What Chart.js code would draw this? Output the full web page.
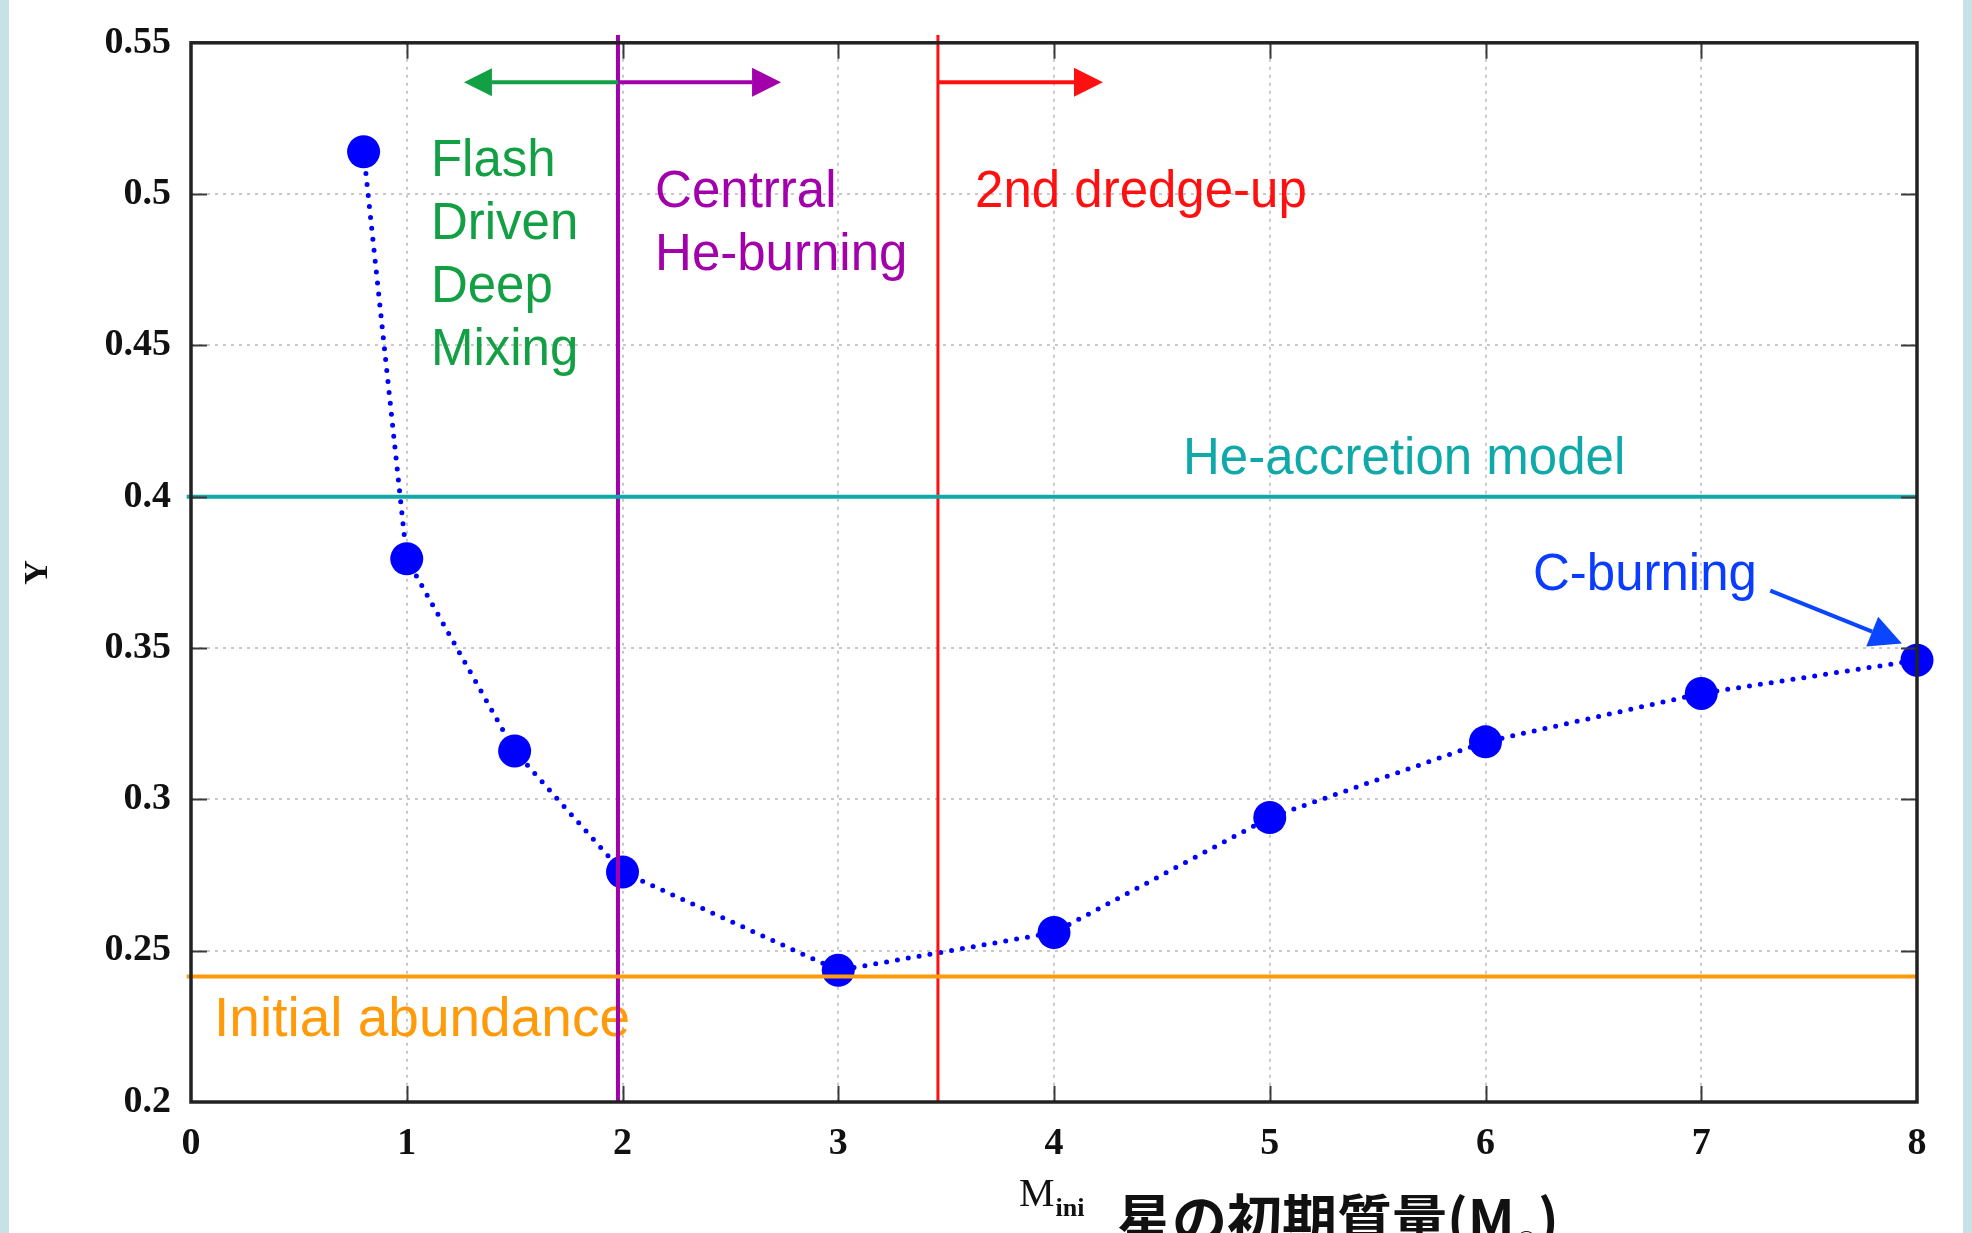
<!DOCTYPE html>
<html lang="ja">
<head>
<meta charset="utf-8">
<title>初期質量とヘリウム量</title>
<script src="https://cdn.jsdelivr.net/npm/chart.js@4.4.1/dist/chart.umd.min.js"></script>
<style>
  html, body { margin: 0; padding: 0; background: #c6e2e6; }
  canvas { display: block; }
</style>
</head>
<body>
<canvas id="heliumChart" width="1972" height="1233"></canvas>
<script>
// initial mass (Msun) vs surface helium abundance Y
const massIni = [0.8, 1, 1.5, 2, 3, 4, 5, 6, 7, 8];
const heliumY = [0.514, 0.3795, 0.316, 0.276, 0.2435, 0.256, 0.294, 0.319, 0.335, 0.346];

const xTicks = [0, 1, 2, 3, 4, 5, 6, 7, 8];
const yTicks = [0.2, 0.25, 0.3, 0.35, 0.4, 0.45, 0.5, 0.55];

// reference levels
const heAccretionY = 0.4;
const initialY = 0.2415;
const heBurningMass = 1.979;
const dredgeUpMass = 3.462;

const GREEN = '#13a044';
const PURPLE = '#a100ab';
const RED = '#ff1010';
const TEAL = '#10a9a9';
const ORANGE = '#ff9a0a';
const BLUE = '#0000ff';

// labels inside the plot: x/y of the first baseline in data units
const notes = [
  { lines: ['Flash', 'Driven', 'Deep', 'Mixing'], x: 1.112, y: 0.5061, color: GREEN },
  { lines: ['Centrral', 'He-burning'], x: 2.151, y: 0.4959, color: PURPLE },
  { lines: ['2nd dredge-up'], x: 3.634, y: 0.4959, color: RED },
  { lines: ['He-accretion model'], x: 4.598, y: 0.4075, color: TEAL },
  { lines: ['C-burning'], x: 6.22, y: 0.3693, color: '#0a3cff' },
  { lines: ['Initial abundance'], x: 0.107, y: 0.2218, color: ORANGE, size: 55 }
];

const arrows = [
  { from: [heBurningMass, 0.537], to: [1.265, 0.537], color: GREEN, head: 28 },
  { from: [heBurningMass, 0.537], to: [2.735, 0.537], color: PURPLE, head: 29 },
  { from: [dredgeUpMass, 0.537], to: [4.227, 0.537], color: RED, head: 29 },
  { from: [7.32, 0.369], to: [7.93, 0.3515], color: '#0a46ff', head: 32 }
];

const refLine = (points, color, width) => ({
  data: points.map(p => ({ x: p[0], y: p[1] })),
  showLine: true,
  borderColor: color,
  borderWidth: width,
  pointRadius: 0,
  clip: false,
  order: 1
});

const drawArrow = (ctx, x1, y1, x2, y2, color, head) => {
  const a = Math.atan2(y2 - y1, x2 - x1);
  const bx = x2 - Math.cos(a) * head;
  const by = y2 - Math.sin(a) * head;
  const hw = head * 0.5;
  ctx.strokeStyle = color;
  ctx.fillStyle = color;
  ctx.lineWidth = 4;
  ctx.beginPath();
  ctx.moveTo(x1, y1);
  ctx.lineTo(bx, by);
  ctx.stroke();
  ctx.beginPath();
  ctx.moveTo(x2, y2);
  ctx.lineTo(bx + Math.sin(a) * hw, by - Math.cos(a) * hw);
  ctx.lineTo(bx - Math.sin(a) * hw, by + Math.cos(a) * hw);
  ctx.closePath();
  ctx.fill();
};

const overlay = {
  id: 'overlay',
  beforeDraw(chart) {
    const ctx = chart.ctx;
    ctx.save();
    ctx.fillStyle = '#c6e2e6';
    ctx.fillRect(0, 0, chart.width, chart.height);
    ctx.fillStyle = '#ffffff';
    ctx.fillRect(9, 0, chart.width - 18, chart.height);
    ctx.restore();
  },
  beforeDatasetsDraw(chart) {
    const { ctx, scales: { x, y } } = chart;
    ctx.save();
    ctx.textAlign = 'left';
    ctx.textBaseline = 'alphabetic';
    notes.forEach(n => {
      ctx.font = `${n.size || 51}px "Liberation Sans", Arial, sans-serif`;
      ctx.fillStyle = n.color;
      const px = x.getPixelForValue(n.x);
      const py = y.getPixelForValue(n.y);
      n.lines.forEach((t, i) => ctx.fillText(t, px, py + i * 63));
    });
    ctx.restore();
  },
  afterDatasetsDraw(chart) {
    const { ctx, chartArea: area, scales: { x, y } } = chart;
    ctx.save();
    arrows.forEach(a => {
      drawArrow(ctx,
        x.getPixelForValue(a.from[0]), y.getPixelForValue(a.from[1]),
        x.getPixelForValue(a.to[0]), y.getPixelForValue(a.to[1]),
        a.color, a.head);
    });

    // mirrored inward tics
    ctx.strokeStyle = '#3a3a3a';
    ctx.lineWidth = 2;
    ctx.beginPath();
    xTicks.slice(1, -1).forEach(v => {
      const px = Math.round(x.getPixelForValue(v)) + 0.5;
      ctx.moveTo(px, area.bottom); ctx.lineTo(px, area.bottom - 16);
      ctx.moveTo(px, area.top); ctx.lineTo(px, area.top + 16);
    });
    yTicks.slice(1, -1).forEach(v => {
      const py = Math.round(y.getPixelForValue(v)) + 0.5;
      ctx.moveTo(area.left, py); ctx.lineTo(area.left + 16, py);
      ctx.moveTo(area.right, py); ctx.lineTo(area.right - 16, py);
    });
    ctx.stroke();

    // frame
    ctx.strokeStyle = '#222';
    ctx.lineWidth = 3.5;
    ctx.strokeRect(area.left, area.top, area.right - area.left, area.bottom - area.top);
    ctx.restore();
  },
  afterDraw(chart) {
    const ctx = chart.ctx;
    ctx.save();
    ctx.fillStyle = '#111';
    ctx.textAlign = 'left';
    ctx.textBaseline = 'alphabetic';
    ctx.font = '40px "Liberation Serif", serif';
    ctx.fillText('M', 1019, 1206);
    const mw = ctx.measureText('M').width;
    ctx.font = 'bold 26px "Liberation Serif", serif';
    ctx.fillText('ini', 1019 + mw + 1, 1216);

    let cx = 1117;
    ctx.font = 'bold 55px "Noto Sans CJK JP", sans-serif';
    ctx.fillText('星の初期質量(M', cx, 1240);
    cx += ctx.measureText('星の初期質量(M').width;
    ctx.font = 'bold 26px "DejaVu Sans", sans-serif';
    ctx.fillText('☉', cx, 1250);
    cx += ctx.measureText('☉').width;
    ctx.font = 'bold 55px "Noto Sans CJK JP", sans-serif';
    ctx.fillText(')', cx, 1240);
    ctx.restore();
  }
};

const gridColor = (lo, hi) => c =>
  (c.tick && (c.tick.value === lo || c.tick.value === hi)) ? 'rgba(0,0,0,0)' : '#c9c9c9';

const tickFont = { family: '"Liberation Serif", serif', size: 38, weight: 'bold' };

new Chart(document.getElementById('heliumChart'), {
  type: 'scatter',
  data: {
    datasets: [
      {
        label: 'Y',
        data: massIni.map((m, i) => ({ x: m, y: heliumY[i] })),
        showLine: true,
        borderColor: BLUE,
        borderWidth: 5,
        borderDash: [0, 11],
        borderCapStyle: 'round',
        pointRadius: 16.5,
        pointBackgroundColor: BLUE,
        pointBorderWidth: 0,
        clip: false,
        order: 2
      },
      refLine([[-0.02, heAccretionY], [8, heAccretionY]], TEAL, 4),
      refLine([[-0.02, initialY], [8, initialY]], ORANGE, 4),
      refLine([[heBurningMass, 0.2], [heBurningMass, 0.5526]], PURPLE, 4),
      refLine([[dredgeUpMass, 0.2], [dredgeUpMass, 0.5526]], RED, 3)
    ]
  },
  options: {
    responsive: false,
    animation: false,
    layout: { padding: { top: 40, right: 55, left: 0, bottom: 0 } },
    plugins: {
      legend: { display: false },
      tooltip: { enabled: false }
    },
    scales: {
      x: {
        type: 'linear',
        min: 0,
        max: 8,
        afterBuildTicks: s => { s.ticks = xTicks.map(v => ({ value: v })); },
        afterFit: s => { s.height = 131; },
        grid: { color: gridColor(0, 8), lineWidth: 2, drawTicks: false },
        border: { display: false, dash: [3, 5] },
        ticks: { padding: 19, color: '#111', font: tickFont }
      },
      y: {
        min: 0.2,
        max: 0.55,
        afterBuildTicks: s => { s.ticks = yTicks.map(v => ({ value: v })); },
        afterFit: s => { s.width = 191; },
        grid: { color: gridColor(0.2, 0.55), lineWidth: 2, drawTicks: false },
        border: { display: false, dash: [3, 5] },
        ticks: {
          padding: 20,
          color: '#111',
          callback: v => String(+v.toFixed(2)),
          font: tickFont
        },
        title: {
          display: true,
          text: 'Y',
          color: '#111',
          padding: { top: 18, bottom: 0 },
          font: { family: '"Liberation Serif", serif', size: 34, weight: 'bold' }
        }
      }
    }
  },
  plugins: [overlay]
});
</script>
</body>
</html>
